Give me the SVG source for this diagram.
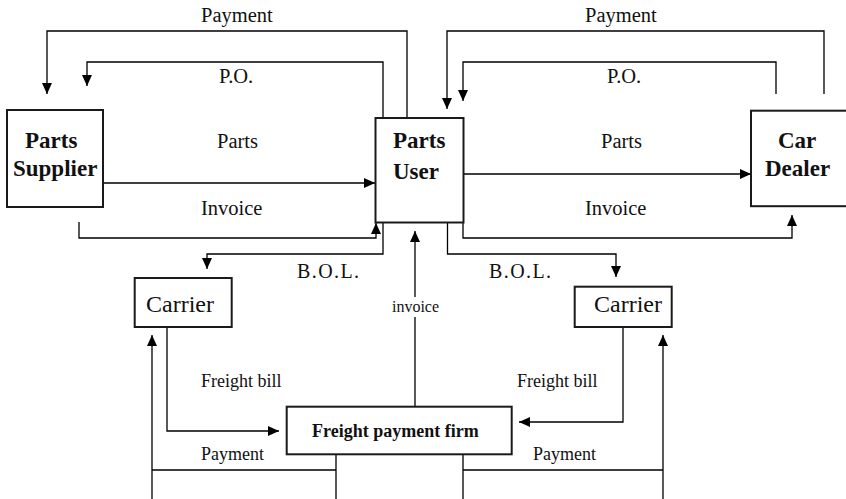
<svg xmlns="http://www.w3.org/2000/svg" width="846" height="499" viewBox="0 0 846 499">
  <style>
    .box { fill: #ffffff; stroke: #1a1a1a; stroke-width: 2; }
    .line { fill: none; stroke: #000000; stroke-width: 1.3; }
    .name { font-family: "Liberation Serif", "Times New Roman", serif; font-weight: bold; font-size: 23px; fill: #111; }
    .plain { font-family: "Liberation Serif", "Times New Roman", serif; font-size: 24px; fill: #111; }
    .lbl { font-family: "Liberation Serif", "Times New Roman", serif; font-size: 20.5px; fill: #111; }
    .sm { font-family: "Liberation Serif", "Times New Roman", serif; font-size: 18px; fill: #111; }
    .xs { font-family: "Liberation Serif", "Times New Roman", serif; font-size: 16px; fill: #111; }
    .bol { font-family: "Liberation Serif", "Times New Roman", serif; font-size: 20px; letter-spacing: 1.4px; fill: #111; }
  </style>
  <defs>
    <marker id="arrow" markerUnits="userSpaceOnUse" markerWidth="11" markerHeight="10" refX="11" refY="5" orient="auto">
      <path d="M0,0 L11,5 L0,10 z" fill="#000"/>
    </marker>
  </defs>
  <rect width="846" height="499" fill="#ffffff"/>

  <g id="connectors">
    <!-- Parts User <-> Parts Supplier -->
    <path class="line" d="M407,118 V31 H47 V94" marker-end="url(#arrow)"/>
    <path class="line" d="M383,118 V62 H87 V86" marker-end="url(#arrow)"/>
    <path class="line" d="M103,183 H375" marker-end="url(#arrow)"/>
    <path class="line" d="M79,222 V238 H376 V223" marker-end="url(#arrow)"/>
    <!-- Car Dealer <-> Parts User -->
    <path class="line" d="M824,94 V31 H447 V109" marker-end="url(#arrow)"/>
    <path class="line" d="M776,94 V62 H463 V101" marker-end="url(#arrow)"/>
    <path class="line" d="M463,174 H751" marker-end="url(#arrow)"/>
    <path class="line" d="M463,222 V238 H792 V215" marker-end="url(#arrow)"/>
    <!-- bills of lading to carriers -->
    <path class="line" d="M383,222 V254 H207 V269" marker-end="url(#arrow)"/>
    <path class="line" d="M447.5,222 V254 H616 V277" marker-end="url(#arrow)"/>
    <!-- invoice from freight payment firm -->
    <path class="line" d="M415,407 V231" marker-end="url(#arrow)"/>
    <!-- freight bills -->
    <path class="line" d="M167,327 V431 H279" marker-end="url(#arrow)"/>
    <path class="line" d="M623,327 V422 H519" marker-end="url(#arrow)"/>
    <!-- payments to carriers -->
    <path class="line" d="M336,454 V499 M336,470 H152"/>
    <path class="line" d="M152,499 V335" marker-end="url(#arrow)"/>
    <path class="line" d="M463,454 V499 M463,470 H663"/>
    <path class="line" d="M663,499 V335" marker-end="url(#arrow)"/>
  </g>

  <g id="parts-supplier">
    <rect class="box" x="7" y="110" width="96" height="97"/>
    <text class="name" x="25" y="148">Parts</text>
    <text class="name" x="13" y="176">Supplier</text>
  </g>
  <g id="parts-user">
    <rect class="box" x="375.5" y="118" width="88" height="104.5"/>
    <text class="name" x="393" y="148">Parts</text>
    <text class="name" x="393" y="179">User</text>
  </g>
  <g id="car-dealer">
    <rect class="box" x="751" y="110.7" width="100" height="95.5"/>
    <text class="name" x="778" y="148">Car</text>
    <text class="name" x="765" y="176">Dealer</text>
  </g>
  <g id="carrier-left">
    <rect class="box" x="134.7" y="278" width="97" height="49"/>
    <text class="plain" x="146" y="312">Carrier</text>
  </g>
  <g id="carrier-right">
    <rect class="box" x="574.7" y="286.7" width="97" height="40.3"/>
    <text class="plain" x="594" y="312">Carrier</text>
  </g>
  <g id="freight-payment-firm">
    <rect class="box" x="286.7" y="406.7" width="225" height="47.6"/>
    <text class="sm" font-weight="bold" x="312" y="437">Freight payment firm</text>
  </g>

  <g id="labels">
    <text class="lbl" x="201" y="22">Payment</text>
    <text class="lbl" x="219" y="83">P.O.</text>
    <text class="lbl" x="217" y="148">Parts</text>
    <text class="lbl" x="201" y="215">Invoice</text>
    <text class="lbl" x="585" y="22">Payment</text>
    <text class="lbl" x="607" y="83">P.O.</text>
    <text class="lbl" x="601" y="148">Parts</text>
    <text class="lbl" x="585" y="215">Invoice</text>
    <text class="bol" x="297" y="278">B.O.L.</text>
    <text class="bol" x="489" y="278">B.O.L.</text>
    <rect x="390" y="297" width="51" height="20" fill="#ffffff"/>
    <text class="xs" x="415.5" y="312" text-anchor="middle">invoice</text>
    <text class="sm" x="201" y="387">Freight bill</text>
    <text class="sm" x="517" y="387">Freight bill</text>
    <text class="sm" x="201" y="460">Payment</text>
    <text class="sm" x="533" y="460">Payment</text>
  </g>
</svg>
